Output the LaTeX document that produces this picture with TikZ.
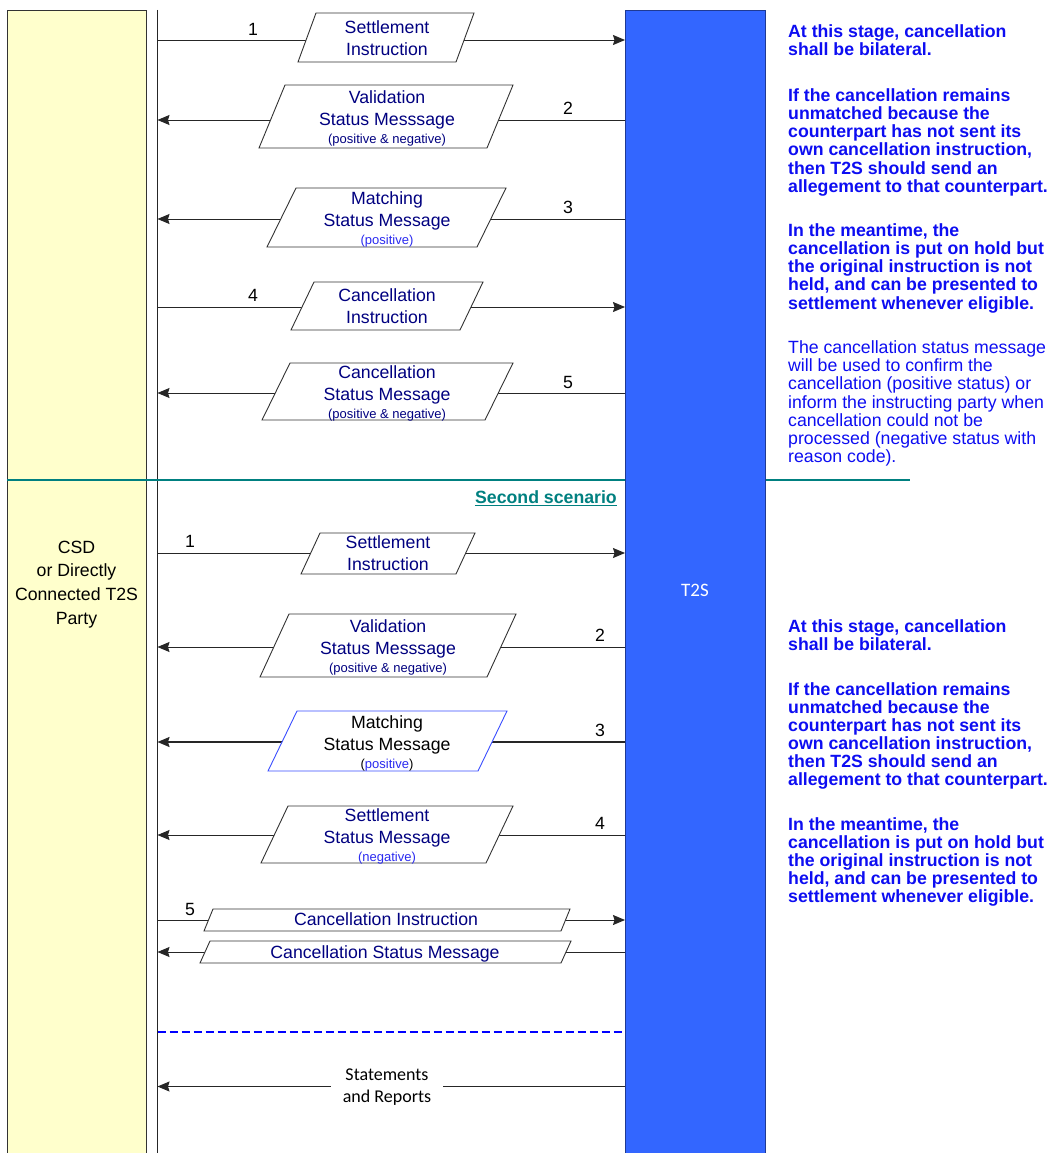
\documentclass[tikz,border=0pt]{standalone}
\usepackage{fontspec}
\setmainfont{Liberation Sans}
\newfontfamily\calfont{Carlito}
\usetikzlibrary{arrows.meta,calc}
\definecolor{cyellow}{HTML}{FFFFCC}
\definecolor{cbar}{HTML}{3366FF}
\definecolor{cbarline}{HTML}{1F3A93}
\definecolor{cteal}{HTML}{008080}
\definecolor{ctext}{HTML}{000080}
\definecolor{cbright}{HTML}{2A2AF0}
\definecolor{cnote}{HTML}{0D0DF2}
\definecolor{cdash}{HTML}{0000FF}
\definecolor{cqline}{HTML}{3A4DFF}
\newcommand\smalltxt[1]{{\fontsize{13}{15}\selectfont #1}}
\newcommand\pgram[6][]{\draw[pbox,#1] (#2,#4) -- ({#2+#5},#4) -- ({#2+#5+#6},#3) -- ({#2+#6},#3) -- cycle;}
\begin{document}
\begin{tikzpicture}[x=1pt,y=-1pt,
  ln/.style={line width=0.9pt, draw=black!85},
  arr/.style={ln, -{Stealth[length=12pt,width=10pt,inset=1.5pt]}},
  pbox/.style={fill=white, draw=black!80, line width=0.9pt},
  btxt/.style={text=ctext, align=center, anchor=north, inner sep=0pt, font=\fontsize{17.7}{21.7}\selectfont},
  num/.style={inner sep=0pt, font=\fontsize{17.7}{20}\selectfont},
  note/.style={anchor=north west, align=left, inner sep=0pt, text=cnote, font=\fontsize{17.7}{18.1}\selectfont\bfseries},
  notereg/.style={note, font=\fontsize{17.7}{18.2}\selectfont}
]
\useasboundingbox (0,0) rectangle (1053,1153);
\fill[white] (0,0) rectangle (1053,1153);
\clip (0,0) rectangle (1053,1153);

% lanes
\node[draw=black!80, line width=1.2pt, fill=cyellow, anchor=north west, minimum width=139pt, minimum height=1160pt, inner sep=0pt] (csdbox) at (7,10) {};
\coordinate (lt) at (157.5,10);
\coordinate (lb) at (157.5,1165);
\draw[line width=0.9pt, black!85] (lt) -- (lb);

\coordinate (tealL) at (7,480);
\coordinate (tealR) at (910,480);
\draw[cteal, line width=2.5pt] (tealL) -- (tealR);

\node[fill=cbar, draw=cbarline, line width=0.8pt, anchor=north west, minimum width=140pt, minimum height=1160pt, inner sep=0pt] (bar) at (625,10) {};
\node[text=white, font=\calfont\fontsize{19}{21}\selectfont, inner sep=0pt] (t2slab) at (695,590) {T2S};

\node[align=center, anchor=north, inner sep=0pt, font=\fontsize{17.7}{23.7}\selectfont] (csd) at (76.5,540.6) {CSD\\or Directly\\Connected T2S\\Party};

% arrow coordinates
\foreach \n/\y in {a1/40,a2/120,a3/219,a4/307,a5/393,b1/553,b2/647,b3/742,b4/835,b5/920,b6/952}{
  \coordinate (\n L) at (157.5,\y);
  \coordinate (\n R) at (625,\y);
}
\draw[arr] (a1L) -- (a1R);
\draw[arr] (a2R) -- (a2L);
\draw[arr] (a3R) -- (a3L);
\draw[arr] (a4L) -- (a4R);
\draw[arr] (a5R) -- (a5L);
\draw[arr] (b1L) -- (b1R);
\draw[arr] (b2R) -- (b2L);
\draw[arr, line width=1.6pt] (b3R) -- (b3L);
\draw[arr] (b4R) -- (b4L);
\draw[arr] (b5L) -- (b5R);
\draw[arr] (b6R) -- (b6L);

% parallelograms
\pgram{298}{13}{62}{158}{18}
\pgram{259}{85}{148}{228}{26}
\pgram{267}{188}{247}{210}{29}
\pgram{291}{282}{330}{169}{23}
\pgram{262}{363}{420}{223}{28}
\pgram{301}{533}{574}{155}{19}
\pgram{260}{614}{677}{227}{29}
\pgram[draw=cqline]{268}{711}{771}{210}{29}
\pgram{261}{806}{863}{225}{27}
\pgram{204}{909}{931}{357}{9}
\pgram{200}{941}{963}{361}{10}

% box texts
\node[btxt] (t1) at (387,20.6) {Settlement\\Instruction};
\node[btxt] (t2) at (387,90.6) {Validation\\Status Messsage\\[-4pt]\smalltxt{(positive \& negative)}};
\node[btxt] (t3) at (387,191.6) {Matching\\Status Message\\[-4pt]\smalltxt{\textcolor{cbright}{(positive)}}};
\node[btxt] (t4) at (387,288.6) {Cancellation\\Instruction};
\node[btxt] (t5) at (387,365.6) {Cancellation\\Status Message\\[-4pt]\smalltxt{(positive \& negative)}};
\node[btxt] (s1) at (388,535.6) {Settlement\\Instruction};
\node[btxt] (s2) at (388,619.6) {Validation\\Status Messsage\\[-4pt]\smalltxt{(positive \& negative)}};
\node[btxt, text=black] (s3) at (387,715.6) {Matching\\Status Message\\[-4pt]\smalltxt{(\textcolor{cbright}{positive})}};
\node[btxt] (s4) at (387,808.6) {Settlement\\Status Message\\[-4pt]\smalltxt{\textcolor{cbright}{(negative)}}};
\node[btxt] (s5) at (386,912.6) {Cancellation Instruction};
\node[btxt] (s6) at (385,945.6) {Cancellation Status Message};

% numbers
\node[num] (k1) at (253,29) {1};
\node[num] (k2) at (568,108) {2};
\node[num] (k3) at (568,207) {3};
\node[num] (k4) at (253,295) {4};
\node[num] (k5) at (568,382) {5};
\node[num] (m1) at (190,541) {1};
\node[num] (m2) at (600,635) {2};
\node[num] (m3) at (600,730) {3};
\node[num] (m4) at (600,823) {4};
\node[num] (m5) at (190,909) {5};

% second scenario title
\node[anchor=base east, inner sep=0pt, text=cteal, font=\fontsize{17.7}{20}\selectfont\bfseries] (sc) at (617,503.4) {Second scenario};
\draw[cteal, line width=1.3pt] ([yshift=-2pt]sc.base west) -- ([yshift=-2pt]sc.base east);

% dashed separator
\coordinate (dL) at (157.5,1032);
\coordinate (dR) at (625,1032);
\draw[cdash, line width=1.4pt, dash pattern=on 8pt off 4pt] (dL) -- (dR);

% statements
\node[align=center, anchor=north, inner xsep=12pt, inner ysep=0pt, font=\calfont\fontsize{18}{21.5}\selectfont] (st) at (387,1069) {Statements\\and Reports};
\coordinate (stR) at (625,1086.5);
\coordinate (stL) at (157.5,1086.5);
\draw[ln] (stR) -- (st.east |- stR);
\draw[arr] (st.west |- stL) -- (stL);

% notes
\node[note] (n1) at (788,24.6) {At this stage, cancellation\\shall be bilateral.};
\node[note] (n2) at (788,88.6) {If the cancellation remains\\unmatched because the\\counterpart has not sent its\\own cancellation instruction,\\then T2S should send an\\allegement to that counterpart.};
\node[note] (n3) at (788,223.6) {In the meantime, the\\cancellation is put on hold but\\the original instruction is not\\held, and can be presented to\\settlement whenever eligible.};
\node[notereg] (n4) at (788,340.4) {The cancellation status message\\will be used to confirm the\\cancellation (positive status) or\\inform the instructing party when\\cancellation could not be\\processed (negative status with\\reason code).};
\node[note] (n5) at (788,619.6) {At this stage, cancellation\\shall be bilateral.};
\node[note] (n6) at (788,682) {If the cancellation remains\\unmatched because the\\counterpart has not sent its\\own cancellation instruction,\\then T2S should send an\\allegement to that counterpart.};
\node[note] (n7) at (788,817) {In the meantime, the\\cancellation is put on hold but\\the original instruction is not\\held, and can be presented to\\settlement whenever eligible.};
\end{tikzpicture}
\end{document}
